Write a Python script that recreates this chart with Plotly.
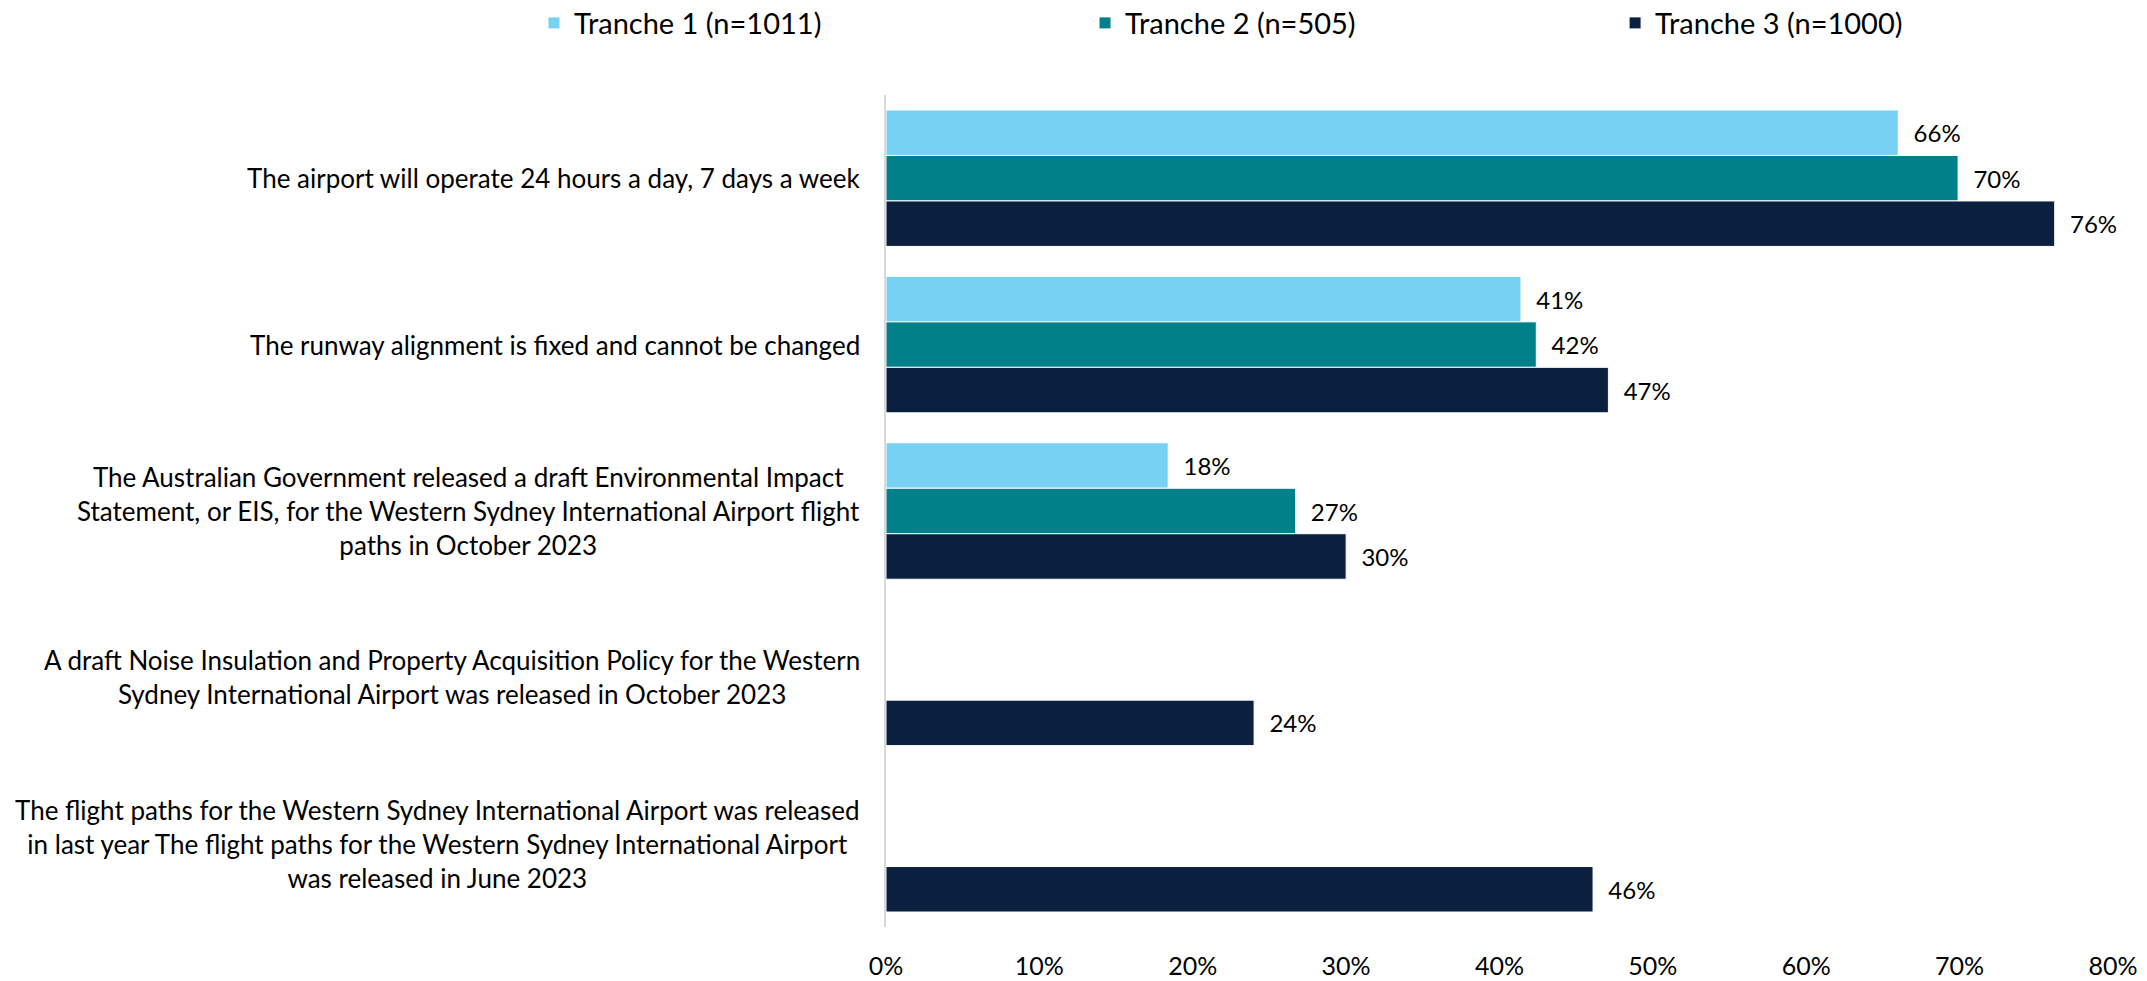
import plotly.graph_objects as go

categories = [
    "The airport will operate 24 hours a day, 7 days a week",
    "The runway alignment is fixed and cannot be changed",
    "The Australian Government released a draft Environmental Impact<br>Statement, or EIS, for the Western Sydney International Airport flight<br>paths in October 2023",
    "A draft Noise Insulation and Property Acquisition Policy for the Western<br>Sydney International Airport was released in October 2023",
    "The flight paths for the Western Sydney International Airport was released<br>in last year The flight paths for the Western Sydney International Airport<br>was released in June 2023",
]
series_names = ["Tranche 1 (n=1011)", "Tranche 2 (n=505)", "Tranche 3 (n=1000)"]
tranche1 = [66.0, 41.4, 18.4, None, None]
tranche2 = [69.9, 42.4, 26.7, None, None]
tranche3 = [76.2, 47.1, 30.0, 24.0, 46.1]
tick_vals = [0, 10, 20, 30, 40, 50, 60, 70, 80]
tick_text = ["0%", "10%", "20%", "30%", "40%", "50%", "60%", "70%", "80%"]

colors = ["#77D1F3", "#00818A", "#0B1F3F"]
FONT = "Lato"
legend_ids = ["legend", "legend2", "legend3"]
legend_x = [-0.2869, 0.1622, 0.5942]

fig = go.Figure()
for name, vals, col, lid in zip(series_names, [tranche1, tranche2, tranche3], colors, legend_ids):
    fig.add_trace(go.Bar(
        y=categories, x=vals, name=name, orientation="h",
        marker=dict(color=col, line=dict(color="white", width=1)),
        texttemplate="\u00a0\u00a0%{x:.0f}%", textposition="outside",
        textfont=dict(family=FONT, size=24, color="#000000"),
        cliponaxis=False, legend=lid,
    ))

for c in categories:
    fig.add_annotation(
        x=0, y=c, xref="x", yref="y", text=c, showarrow=False,
        xanchor="right", yanchor="middle", align="center", xshift=-24,
        font=dict(family=FONT, size=26, color="#000000"),
    )

legend_common = dict(
    orientation="h", xanchor="left", y=1.0865, yanchor="middle",
    font=dict(family=FONT, size=29, color="#000000"),
    bgcolor="rgba(0,0,0,0)",
)

fig.update_layout(
    width=2147, height=981,
    margin=dict(l=886, r=34, t=95, b=54, autoexpand=False),
    paper_bgcolor="white", plot_bgcolor="white",
    barmode="group", bargap=0.18, bargroupgap=0,
    font=dict(family=FONT, size=24, color="#000000"),
    legend=dict(x=legend_x[0], **legend_common),
    legend2=dict(x=legend_x[1], **legend_common),
    legend3=dict(x=legend_x[2], **legend_common),
    showlegend=True,
)
fig.update_xaxes(
    range=[0, 80], tickvals=tick_vals, ticktext=tick_text,
    showgrid=False, zeroline=False, showline=False, ticks="",
    ticklabelstandoff=22,
    tickfont=dict(family=FONT, size=25, color="#000000"),
)
fig.update_yaxes(
    autorange="reversed", showticklabels=False, ticks="",
    showgrid=False, zeroline=False,
    showline=True, linecolor="#D9D9D9", linewidth=2,
)

fig.write_html(
    "out.html",
    config={"displayModeBar": False},
    post_script="document.body.style.margin='0';document.body.style.overflow='hidden';",
)
